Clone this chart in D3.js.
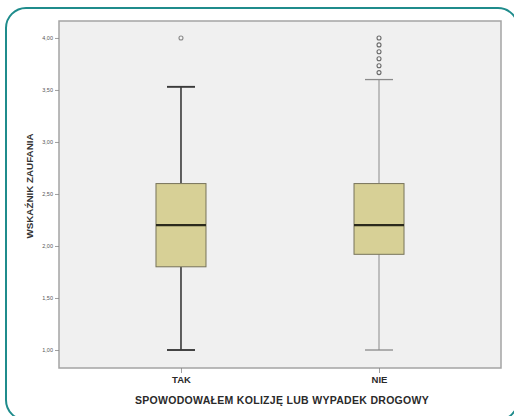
<!DOCTYPE html>
<html>
<head>
<meta charset="utf-8">
<script src="https://cdn.jsdelivr.net/npm/d3@7"></script>
<style>
  html, body { margin: 0; padding: 0; background: #ffffff; }
  svg { display: block; }
</style>
</head>
<body>
<svg id="chart" width="514" height="416"></svg>
<script>
// Groups and five-number summaries of the trust index
const categories = ["TAK", "NIE"];
const whiskerLow = [1.00, 1.00];
const quartile1 = [1.80, 1.92];
const medians = [2.20, 2.20];
const quartile3 = [2.60, 2.60];
const whiskerHigh = [3.53, 3.60];
const outliersTak = [4.00];
const outliersNie = [4.00, 3.933, 3.867, 3.80, 3.733, 3.667];
const yTicks = [1.0, 1.5, 2.0, 2.5, 3.0, 3.5, 4.0];

const outliers = [outliersTak, outliersNie];

const svg = d3.select("#chart");

// Rounded teal frame
svg.append("rect")
  .attr("x", 6).attr("y", 8)
  .attr("width", 512).attr("height", 412)
  .attr("rx", 20).attr("ry", 20)
  .attr("fill", "#ffffff")
  .attr("stroke", "#1f8c8c")
  .attr("stroke-width", 2);

const plot = { left: 59, right: 501, top: 21, bottom: 368 };

const y = d3.scaleLinear()
  .domain([0.827, 4.163])
  .range([plot.bottom, plot.top]);

const x = d3.scalePoint()
  .domain(categories)
  .range([plot.left, plot.right])
  .padding(0.616);

// Plot background
svg.append("rect")
  .attr("x", plot.left).attr("y", plot.top)
  .attr("width", plot.right - plot.left)
  .attr("height", plot.bottom - plot.top)
  .attr("fill", "#f0f0f0")
  .attr("stroke", "#a4a4a4")
  .attr("stroke-width", 1.5);

// Y axis
const yAxis = d3.axisLeft(y)
  .tickValues(yTicks)
  .tickSize(4)
  .tickPadding(2)
  .tickFormat(d => d3.format(".2f")(d).replace(".", ","));

const yg = svg.append("g")
  .attr("transform", `translate(${plot.left},0)`)
  .call(yAxis);
yg.select(".domain").remove();
yg.selectAll(".tick line").attr("stroke", "#888").attr("stroke-width", 0.8);
yg.selectAll(".tick text")
  .attr("fill", "#555")
  .style("font-family", "Liberation Sans, Arial, sans-serif")
  .style("font-size", "5.5px");

// X axis
const xAxis = d3.axisBottom(x).tickSize(5).tickPadding(3);
const xg = svg.append("g")
  .attr("transform", `translate(0,${plot.bottom})`)
  .call(xAxis);
xg.select(".domain").remove();
xg.selectAll(".tick line").attr("stroke", "#888").attr("stroke-width", 0.8);
xg.selectAll(".tick text")
  .attr("fill", "#2a2a2a")
  .style("font-family", "Liberation Sans, Arial, sans-serif")
  .style("font-weight", "bold")
  .style("font-size", "9.5px");

// Axis titles
svg.append("text")
  .attr("x", 282).attr("y", 404)
  .attr("text-anchor", "middle")
  .attr("fill", "#2a2a2a")
  .style("font-family", "Liberation Sans, Arial, sans-serif")
  .style("font-weight", "bold")
  .style("font-size", "10.5px")
  .style("letter-spacing", "0.3px")
  .text("SPOWODOWAŁEM KOLIZJĘ LUB WYPADEK DROGOWY");

svg.append("text")
  .attr("transform", `translate(33,186) rotate(-90)`)
  .attr("text-anchor", "middle")
  .attr("fill", "#333")
  .style("font-family", "Liberation Sans, Arial, sans-serif")
  .style("font-size", "9.8px")
  .style("font-weight", "bold")
  .text("WSKAŹNIK ZAUFANIA");

// Box plots
const boxW = 50;
const capW = 28;
const whiskerColor = ["#3a3a3a", "#8a8a8a"];
const whiskerWidth = [1.6, 1.0];

categories.forEach((c, i) => {
  const cx = x(c);
  const g = svg.append("g");

  // whisker stems
  g.append("line")
    .attr("x1", cx).attr("x2", cx)
    .attr("y1", y(quartile3[i])).attr("y2", y(whiskerHigh[i]))
    .attr("stroke", whiskerColor[i]).attr("stroke-width", whiskerWidth[i]);
  g.append("line")
    .attr("x1", cx).attr("x2", cx)
    .attr("y1", y(quartile1[i])).attr("y2", y(whiskerLow[i]))
    .attr("stroke", whiskerColor[i]).attr("stroke-width", whiskerWidth[i]);

  // caps
  [whiskerHigh[i], whiskerLow[i]].forEach(v => {
    g.append("line")
      .attr("x1", cx - capW / 2).attr("x2", cx + capW / 2)
      .attr("y1", y(v)).attr("y2", y(v))
      .attr("stroke", whiskerColor[i]).attr("stroke-width", whiskerWidth[i] + 0.3);
  });

  // box
  g.append("rect")
    .attr("x", cx - boxW / 2)
    .attr("y", y(quartile3[i]))
    .attr("width", boxW)
    .attr("height", y(quartile1[i]) - y(quartile3[i]))
    .attr("fill", "#d7d096")
    .attr("stroke", "#77735a")
    .attr("stroke-width", 1);

  // median
  g.append("line")
    .attr("x1", cx - boxW / 2).attr("x2", cx + boxW / 2)
    .attr("y1", y(medians[i])).attr("y2", y(medians[i]))
    .attr("stroke", "#2b2a1c").attr("stroke-width", 2.2);

  // outliers
  g.selectAll("circle")
    .data(outliers[i])
    .join("circle")
    .attr("cx", cx)
    .attr("cy", d => y(d))
    .attr("r", 2)
    .attr("fill", "#f4f4f4")
    .attr("stroke", i === 0 ? "#8a8a8a" : "#6a6a6a")
    .attr("stroke-width", 1.1);
});
</script>
</body>
</html>
